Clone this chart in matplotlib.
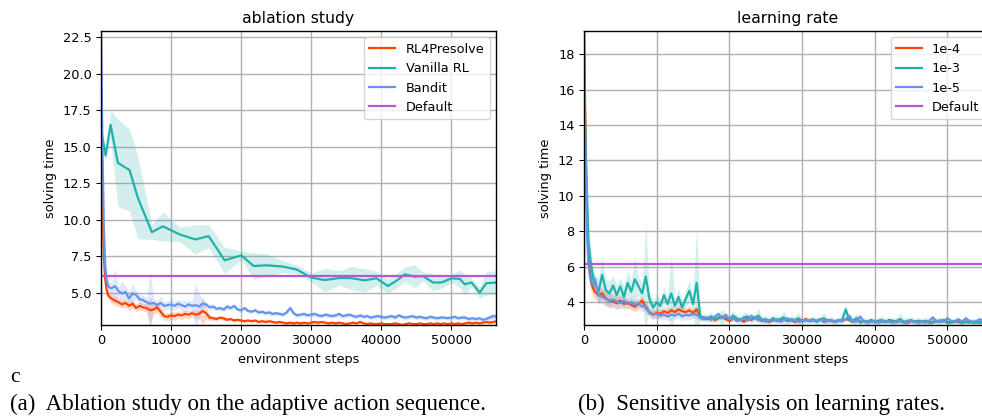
import numpy as np
import matplotlib
matplotlib.use('Agg')
import matplotlib.pyplot as plt

# ---- data ----
# left panel: ablation study
steps_a = [0, 200, 400, 600, 800, 1000, 1250] + list(range(1500, 57000, 500))
rl4presolve = [16.0, 11.0, 7.5, 5.9, 5.2, 4.85, 4.7,
               4.6, 4.45, 4.35, 4.2, 4.3, 4.1, 4.25, 3.95, 4.1, 4.0,
               3.95, 3.8, 3.85, 4.0, 3.7, 3.4, 3.35, 3.45, 3.4, 3.5,
               3.45, 3.55, 3.5, 3.6, 3.5, 3.55, 3.75, 3.6, 3.3, 3.25,
               3.2, 3.3, 3.25, 3.15, 3.2, 3.1, 3.15, 3.1, 3.05, 3.1,
               3.05, 3.1, 3.0, 3.05, 3.0, 3.05, 3.0, 2.95, 3.0, 2.95,
               2.9, 2.95, 2.9, 2.95, 2.9, 2.95, 2.9, 2.95, 3.0, 2.95,
               3.0, 2.95, 2.9, 2.95, 2.9, 2.95, 2.9, 2.85, 2.9, 2.95,
               2.9, 3.0, 2.9, 2.85, 2.9, 2.85, 2.85, 2.9, 2.85, 2.85,
               2.85, 2.9, 2.85, 2.8, 2.85, 2.9, 2.85, 2.85, 2.9, 2.85,
               2.85, 2.9, 2.85, 2.9, 2.85, 2.9, 2.85, 2.9, 2.85, 2.9,
               2.85, 2.9, 2.95, 2.9, 2.95, 2.9, 2.95, 3.0, 2.95, 3.0,
               3.05]
rl4presolve_sd = [0.2, 1.5, 1.0, 0.6, 0.4, 0.3, 0.3,
                  0.3, 0.35, 0.3, 0.25, 0.3, 0.35, 0.3, 0.25, 0.3, 0.25,
                  0.3, 0.9, 0.3, 0.4, 0.3, 0.25, 0.3, 0.25, 0.3, 0.25,
                  0.3, 0.25, 0.3, 0.25, 0.3, 0.3, 1.0, 0.4, 0.2, 0.15,
                  0.15, 0.1, 0.15, 0.1, 0.1, 0.1, 0.1, 0.1, 0.1, 0.1,
                  0.1, 0.1, 0.1, 0.1, 0.1, 0.1, 0.1, 0.1, 0.1, 0.1,
                  0.1, 0.1, 0.1, 0.1, 0.1, 0.1, 0.1, 0.1, 0.1, 0.1,
                  0.1, 0.1, 0.1, 0.1, 0.1, 0.1, 0.1, 0.1, 0.1, 0.1,
                  0.1, 0.1, 0.1, 0.1, 0.1, 0.1, 0.1, 0.1, 0.1, 0.1,
                  0.1, 0.1, 0.1, 0.1, 0.1, 0.1, 0.1, 0.1, 0.1, 0.1,
                  0.1, 0.1, 0.1, 0.1, 0.1, 0.1, 0.1, 0.1, 0.1, 0.1,
                  0.1, 0.1, 0.1, 0.1, 0.1, 0.1, 0.1, 0.1, 0.1, 0.1,
                  0.1]
bandit = [22.8, 15.0, 9.5, 6.8, 5.8, 5.5, 5.35,
          5.3, 5.45, 5.1, 4.95, 5.05, 4.6, 4.95, 4.85, 4.55, 4.5,
          4.35, 4.25, 4.3, 4.15, 4.3, 4.1, 4.15, 4.2, 4.1, 4.25,
          4.15, 4.05, 4.2, 4.1, 4.15, 4.05, 4.25, 4.2, 4.0, 4.05,
          3.9, 3.95, 3.85, 4.05, 3.95, 4.1, 3.85, 3.8, 3.95, 3.75,
          3.7, 3.8, 3.65, 3.7, 3.6, 3.65, 3.55, 3.6, 3.55, 3.5,
          3.65, 3.95, 3.6, 3.45, 3.5, 3.55, 3.45, 3.5, 3.55, 3.45,
          3.4, 3.5, 3.45, 3.4, 3.45, 3.55, 3.4, 3.45, 3.5, 3.4,
          3.35, 3.45, 3.35, 3.4, 3.3, 3.35, 3.4, 3.35, 3.3, 3.35,
          3.4, 3.3, 3.45, 3.35, 3.3, 3.35, 3.4, 3.3, 3.35, 3.3,
          3.25, 3.35, 3.3, 3.25, 3.3, 3.3, 3.25, 3.3, 3.35, 3.25,
          3.3, 3.3, 3.2, 3.25, 3.2, 3.25, 3.15, 3.2, 3.3, 3.4,
          3.35]
bandit_sd = [0.1, 2.0, 1.5, 1.0, 0.6, 0.5, 0.4,
             0.4, 1.2, 0.3, 0.9, 0.4, 0.5, 0.6, 0.3, 0.4, 0.3,
             0.3, 2.2, 0.4, 0.3, 0.5, 0.3, 0.3, 0.4, 0.3, 0.3,
             0.3, 0.4, 0.3, 0.3, 1.5, 0.9, 0.3, 0.2, 0.2, 0.2,
             0.15, 0.15, 0.15, 0.2, 0.15, 0.15, 0.15, 0.15, 0.15, 0.15,
             0.15, 0.15, 0.15, 0.15, 0.15, 0.15, 0.15, 0.15, 0.15, 0.15,
             0.15, 0.2, 0.15, 0.15, 0.15, 0.15, 0.15, 0.15, 0.15, 0.15,
             0.15, 0.15, 0.15, 0.15, 0.15, 0.15, 0.15, 0.15, 0.15, 0.15,
             0.15, 0.15, 0.15, 0.15, 0.15, 0.15, 0.15, 0.15, 0.15, 0.15,
             0.15, 0.15, 0.15, 0.15, 0.15, 0.15, 0.15, 0.15, 0.15, 0.15,
             0.15, 0.15, 0.15, 0.15, 0.15, 0.15, 0.15, 0.15, 0.15, 0.15,
             0.15, 0.15, 0.15, 0.15, 0.15, 0.15, 0.15, 0.2, 0.2, 0.2,
             0.2]
steps_vanilla = [0, 640, 1360, 2400, 4070, 5260, 7260, 8830, 11200, 13460,
                 15360, 17650, 20030, 21790, 23600, 25980, 27890, 30030, 31930, 34080,
                 35700, 37650, 39320, 40980, 42180, 43370, 44800, 45980, 47410, 48600,
                 50040, 51230, 51940, 52900, 54080, 55000, 56400]
vanilla_rl = [16.2, 14.4, 16.5, 13.9, 13.4, 11.5, 9.15, 9.55, 9.0, 8.65,
              8.88, 7.22, 7.56, 6.83, 6.88, 6.79, 6.6, 6.04, 5.87, 6.01,
              6.0, 5.85, 5.99, 5.46, 5.82, 6.26, 6.1, 6.14, 5.7, 5.7,
              5.99, 5.95, 5.58, 5.7, 5.01, 5.65, 5.7]
vanilla_rl_sd = [0.3, 0.3, 1.0, 3.0, 2.8, 2.8, 0.5, 1.0, 0.5, 1.0,
                 0.8, 0.9, 0.3, 0.9, 0.8, 0.4, 0.3, 0.3, 0.8, 0.5,
                 0.8, 0.8, 0.5, 0.5, 0.5, 0.5, 0.8, 0.3, 0.6, 0.4,
                 0.3, 0.6, 0.7, 0.3, 0.4, 0.8, 0.8]
default_a = 6.15

# right panel: learning rate
steps_b = [0, 150, 300, 450, 600, 800, 1000, 1250] + list(range(1500, 56500, 500))
lr_1e4 = [19.5, 15.0, 11.0, 8.5, 6.8, 5.7, 5.1, 4.8,
          4.6, 4.4, 4.5, 4.2, 4.1, 4.05, 3.95, 4.1, 3.9, 4.0,
          3.85, 3.75, 3.9, 4.1, 3.7, 3.45, 3.3, 3.4, 3.35, 3.5,
          3.4, 3.55, 3.45, 3.6, 3.5, 3.45, 3.55, 3.4, 3.6, 3.2,
          3.1, 3.05, 3.15, 3.0, 3.1, 3.2, 3.05, 2.95, 3.1, 3.0,
          3.05, 2.9, 3.1, 3.0, 3.15, 3.05, 2.95, 3.0, 2.9, 3.05,
          2.95, 3.0, 3.05, 2.95, 3.0, 2.9, 3.0, 2.95, 3.05, 2.95,
          3.0, 2.95, 3.05, 2.9, 3.0, 2.95, 2.9, 3.0, 2.95, 3.05,
          3.0, 2.9, 3.1, 2.9, 2.95, 2.9, 3.0, 2.9, 2.95, 2.95,
          2.9, 3.0, 2.95, 2.9, 2.95, 2.9, 2.85, 2.95, 2.9, 2.95,
          2.9, 2.95, 2.85, 2.9, 2.95, 2.9, 3.0, 2.85, 2.9, 2.95,
          2.9, 2.85, 2.9, 2.95, 2.85, 2.9, 2.85, 2.9, 2.85, 2.9]
lr_1e3 = [15.0, 14.0, 11.5, 9.5, 7.5, 6.7, 6.0, 5.4,
          5.0, 4.6, 5.55, 4.7, 4.5, 4.95, 4.4, 4.9, 4.3, 5.1,
          4.6, 5.3, 4.9, 4.5, 5.45, 4.2, 3.7, 4.0, 3.8, 4.4,
          3.9, 4.5, 3.8, 4.3, 3.7, 4.2, 4.65, 3.9, 5.1, 3.2,
          3.15, 3.1, 3.2, 3.05, 3.15, 3.1, 3.2, 3.05, 3.25, 3.1,
          3.0, 3.15, 3.2, 3.05, 3.1, 3.25, 3.0, 3.05, 2.95, 3.1,
          3.0, 3.05, 3.15, 2.95, 3.05, 3.0, 3.1, 2.95, 3.0, 2.95,
          3.05, 2.9, 3.0, 3.1, 2.95, 3.0, 2.9, 2.95, 3.0, 3.6,
          3.0, 2.95, 3.1, 2.85, 2.95, 2.9, 2.95, 2.9, 2.95, 3.0,
          2.9, 2.95, 2.9, 2.95, 3.05, 2.9, 2.95, 3.0, 2.9, 2.95,
          2.9, 2.95, 2.9, 2.85, 2.95, 2.9, 3.0, 2.9, 2.85, 2.9,
          2.95, 2.85, 2.9, 2.85, 2.9, 2.85, 2.9, 2.85, 2.9, 2.85]
lr_1e5 = [19.5, 14.0, 10.0, 7.5, 6.2, 5.5, 5.2, 5.0,
          5.3, 4.4, 4.3, 4.2, 4.1, 4.15, 4.05, 3.95, 4.1, 3.9,
          4.0, 3.85, 3.95, 3.75, 3.8, 3.4, 3.3, 3.35, 3.25, 3.3,
          3.2, 3.3, 3.25, 3.35, 3.2, 3.3, 3.25, 3.35, 3.3, 3.1,
          3.05, 3.15, 3.0, 3.2, 3.35, 3.1, 3.3, 3.05, 3.1, 2.95,
          3.0, 3.1, 2.95, 3.25, 3.1, 3.0, 3.05, 2.9, 3.0, 2.95,
          3.05, 2.9, 3.0, 3.1, 2.95, 3.0, 2.9, 2.95, 3.0, 2.95,
          3.0, 2.95, 3.05, 2.9, 2.95, 3.0, 2.9, 3.0, 2.95, 3.05,
          3.25, 2.95, 2.9, 3.2, 2.9, 2.85, 2.9, 2.95, 2.85, 2.9,
          2.95, 2.9, 2.85, 2.9, 2.95, 2.85, 2.9, 2.95, 2.9, 2.85,
          2.9, 2.85, 2.95, 3.15, 2.9, 3.0, 2.9, 3.1, 2.95, 2.9,
          3.05, 2.9, 3.1, 2.95, 2.9, 2.95, 3.05, 2.9, 2.95, 3.0]
lr_1e3_sd = [0.5, 3.0, 3.0, 2.0, 1.5, 1.0, 0.8, 0.6,
             0.5, 0.8, 1.0, 0.6, 0.7, 0.5, 0.6, 0.5, 0.6, 0.7,
             0.6, 1.3, 0.5, 0.6, 3.0, 0.4, 0.4, 0.5, 0.4, 0.5,
             0.4, 2.2, 0.4, 0.5, 0.4, 0.5, 0.6, 0.4, 3.3, 0.2,
             0.2, 0.2, 0.3, 0.2, 0.2, 0.5, 0.2, 0.2, 0.3, 0.2,
             0.2, 0.3, 0.2, 0.2, 0.2, 0.4, 0.2, 0.2, 0.2, 0.2,
             0.2, 0.2, 0.4, 0.2, 0.2, 0.2, 0.3, 0.2, 0.2, 0.2,
             0.2, 0.2, 0.2, 0.3, 0.2, 0.2, 0.2, 0.2, 0.2, 0.3,
             0.2, 0.2, 0.3, 0.2, 0.2, 0.2, 0.2, 0.2, 0.2, 0.2,
             0.2, 0.2, 0.2, 0.2, 0.4, 0.2, 0.2, 0.2, 0.2, 0.2,
             0.2, 0.2, 0.2, 0.2, 0.2, 0.2, 0.2, 0.2, 0.2, 0.2,
             0.2, 0.2, 0.2, 0.2, 0.2, 0.2, 0.2, 0.2, 0.2, 0.2]
lr_sd = [1.0, 2.0, 1.5, 1.0, 0.8, 0.6, 0.5, 0.5,
         0.4, 0.4, 0.4, 0.4, 0.4, 0.35, 0.35, 0.35, 0.3, 0.3,
         0.3, 0.3, 0.3, 0.3, 0.3, 0.25, 0.25, 0.25, 0.25, 0.25,
         0.25, 0.25, 0.25, 0.25, 0.25, 0.25, 0.25, 0.25, 0.25, 0.15,
         0.1, 0.1, 0.1, 0.1, 0.1, 0.1, 0.1, 0.1, 0.1, 0.1,
         0.1, 0.1, 0.1, 0.1, 0.1, 0.1, 0.1, 0.1, 0.1, 0.1,
         0.1, 0.1, 0.1, 0.1, 0.1, 0.1, 0.1, 0.1, 0.1, 0.1,
         0.1, 0.1, 0.1, 0.1, 0.1, 0.1, 0.1, 0.1, 0.1, 0.1,
         0.1, 0.1, 0.1, 0.1, 0.1, 0.1, 0.1, 0.1, 0.1, 0.1,
         0.1, 0.1, 0.1, 0.1, 0.1, 0.1, 0.1, 0.1, 0.1, 0.1,
         0.1, 0.1, 0.1, 0.1, 0.1, 0.1, 0.1, 0.1, 0.1, 0.1,
         0.1, 0.1, 0.1, 0.1, 0.1, 0.1, 0.1, 0.1, 0.1, 0.1]
default_b = 6.15

c_red = '#FF4500'
c_teal = '#20B2AA'
c_blue = '#6495ED'
c_purple = '#BA55D3'

fs = 9.3
lw = 1.6
plt.rcParams['font.family'] = 'DejaVu Sans'
plt.rcParams['font.size'] = fs
plt.rcParams['axes.linewidth'] = 1.0
plt.rcParams['xtick.major.size'] = 3.3
plt.rcParams['ytick.major.size'] = 3.3
plt.rcParams['xtick.major.width'] = 0.75
plt.rcParams['ytick.major.width'] = 0.75


def band(ax, x, y, sd, color, alpha=0.2):
    y = np.array(y)
    sd = np.array(sd)
    ax.fill_between(x, y - sd, y + sd, color=color, alpha=alpha, lw=0)


fig = plt.figure(figsize=(9.82, 4.18), dpi=100)
ax1 = fig.add_axes([0.1029, 0.2225, 0.4022, 0.7033])
ax2 = fig.add_axes([0.5947, 0.2225, 0.4145, 0.7033])

# 左图
band(ax1, steps_a, rl4presolve, rl4presolve_sd, c_red)
band(ax1, steps_vanilla, vanilla_rl, vanilla_rl_sd, c_teal)
band(ax1, steps_a, bandit, bandit_sd, c_blue)
ax1.plot(steps_a, rl4presolve, color=c_red, lw=lw, label='RL4Presolve')
ax1.plot(steps_vanilla, vanilla_rl, color=c_teal, lw=lw, label='Vanilla RL')
ax1.plot(steps_a, bandit, color=c_blue, lw=lw, label='Bandit')
ax1.axhline(default_a, color=c_purple, lw=lw, label='Default')
ax1.set_xlim(0, 56400)
ax1.set_ylim(2.79, 22.93)
ax1.set_yticks([5.0, 7.5, 10.0, 12.5, 15.0, 17.5, 20.0, 22.5])
ax1.set_title('ablation study', fontsize=11.3)

# 右图
band(ax2, steps_b, lr_1e4, lr_sd, c_red)
band(ax2, steps_b, lr_1e3, lr_1e3_sd, c_teal)
band(ax2, steps_b, lr_1e5, lr_sd, c_blue)
ax2.plot(steps_b, lr_1e4, color=c_red, lw=lw, label='1e-4')
ax2.plot(steps_b, lr_1e3, color=c_teal, lw=lw, label='1e-3')
ax2.plot(steps_b, lr_1e5, color=c_blue, lw=lw, label='1e-5')
ax2.axhline(default_b, color=c_purple, lw=lw, label='Default')
ax2.set_xlim(0, 56000)
ax2.set_ylim(2.72, 19.3)
ax2.set_yticks([4, 6, 8, 10, 12, 14, 16, 18])
ax2.set_title('learning rate', fontsize=11.3)

for ax in (ax1, ax2):
    ax.set_xticks([0, 10000, 20000, 30000, 40000, 50000])
    ax.grid(True, color='#b0b0b0', lw=1.0)
    ax.set_axisbelow(True)
    ax.set_xlabel('environment steps', fontsize=fs)
    ax.set_ylabel('solving time', fontsize=fs)
    ax.legend(loc='upper right', fontsize=fs)

# captions
fig.text(0.010, 0.098, 'c', family='Liberation Serif', fontsize=15.5, va='center')
fig.text(0.010, 0.033, '(a)  Ablation study on the adaptive action sequence.',
         family='Liberation Serif', fontsize=16.6, va='center')
fig.text(0.589, 0.033, '(b)  Sensitive analysis on learning rates.',
         family='Liberation Serif', fontsize=16.6, va='center')

fig.savefig('out.png', dpi=100)
